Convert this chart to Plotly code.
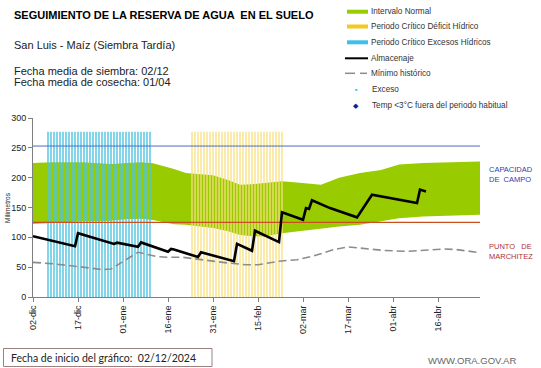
import pandas as pd
import plotly.graph_objects as go

# ---------------- data ----------------
start_date = "2024-12-02"
end_day = 149

tick_days = [0, 15, 30, 45, 60, 75, 90, 105, 120, 135]
tick_labels = ["02-dic", "17-dic", "01-ene", "16-ene", "31-ene", "15-feb",
               "02-mar", "17-mar", "01-abr", "16-abr"]

band_days = [0, 6, 12, 17, 22, 26, 31, 36, 40, 44, 47, 51, 56, 60, 65, 69, 73, 77,
             83, 88, 92, 96, 102, 109, 116, 122, 130, 139, 149]
band_upper = [224.5, 226, 226, 226, 224, 223, 224.5, 226, 224, 219, 214.5, 208, 206,
              204, 196, 188, 189, 191, 194, 192, 190, 188, 200, 208, 213, 222, 224.5,
              225.5, 227]
band_lower = [122.5, 124, 126.5, 127, 127, 128, 130.5, 131, 129, 125, 122, 121, 118,
              115.5, 110, 104, 102, 101.5, 107, 110, 112, 114, 118, 121, 126.5, 132,
              135, 136, 138]

alm_days = [0, 14, 15, 27, 28, 29, 35, 36, 44, 45, 46, 47, 55, 56, 67, 68, 73, 74,
            82, 83, 90, 91, 92, 93, 99, 108, 113, 128, 129, 130, 131]
alm_vals = [102, 85, 107, 89, 91, 90, 84, 91.5, 77, 76, 80.5, 79.5, 67, 75, 60, 89,
            77.5, 111, 92, 142, 129.5, 149, 147.5, 162, 149, 133.5, 171.5, 157.5, 180,
            178, 177]

min_days = [0, 6, 15, 23, 26, 35, 41, 45, 50, 56, 65, 71, 75, 82, 88, 93, 100, 105,
            111, 117, 125, 131, 137, 141, 148]
min_vals = [58, 56, 51, 46, 47, 75, 68, 66.5, 66.5, 62.5, 57, 54, 54, 60, 62.5, 68,
            79, 84, 80.5, 78, 76.5, 79, 80.5, 79.5, 75]

capacidad_campo = 253
punto_marchitez = 125

periodo_top = 277
exceso_period = ("2024-12-07", "2025-01-10")
deficit_period = ("2025-01-24", "2025-02-23")

# ---------------- helpers ----------------
t0 = pd.Timestamp(start_date)


def to_dates(days):
    return [t0 + pd.Timedelta(days=d) for d in days]


def vlines(period, top):
    xs, ys = [], []
    for d in pd.date_range(period[0], period[1], freq="D"):
        xs += [d, d, None]
        ys += [0, top, None]
    return xs, ys


FONT = "Arial, Liberation Sans, sans-serif"
L, R, T, B = 33, 480, 118, 297
W, H = 541, 368


def px(x):
    return (x - L) / (R - L)


def py(y):
    return (B - y) / (B - T)


fig = go.Figure()

# normal interval band
bx = to_dates(band_days)
fig.add_trace(go.Scatter(x=bx, y=band_lower, mode="lines", line=dict(width=0, color="#99CC00"),
                         hoverinfo="skip", showlegend=False))
fig.add_trace(go.Scatter(x=bx, y=band_upper, mode="lines", line=dict(width=0, color="#99CC00"),
                         fill="tonexty", fillcolor="#99CC00", showlegend=False))

# critical periods
ex_x, ex_y = vlines(exceso_period, periodo_top)
fig.add_trace(go.Scatter(x=ex_x, y=ex_y, mode="lines", line=dict(width=1.4, color="#4EC3E0"),
                         showlegend=False))
de_x, de_y = vlines(deficit_period, periodo_top)
fig.add_trace(go.Scatter(x=de_x, y=de_y, mode="lines", line=dict(width=1.3, color="#F7E07E"),
                         showlegend=False))

# reference lines
full = to_dates([0, end_day])
fig.add_trace(go.Scatter(x=full, y=[capacidad_campo] * 2, mode="lines",
                         line=dict(width=1, color="#4A6BC0"), showlegend=False))
fig.add_trace(go.Scatter(x=full, y=[punto_marchitez] * 2, mode="lines",
                         line=dict(width=1.3, color="#C8501E"), showlegend=False))

# minimo historico
fig.add_trace(go.Scatter(x=to_dates(min_days), y=min_vals, mode="lines",
                         line=dict(width=1.6, color="#8C8C8C", dash="8px,4px"), showlegend=False))
# almacenaje
fig.add_trace(go.Scatter(x=to_dates(alm_days), y=alm_vals, mode="lines",
                         line=dict(width=2.6, color="#000000"), showlegend=False))

shapes = []
ann = []


def text(x, y, s, size=8, color="#333333", anchor="left", bold=False, angle=0, family=FONT):
    ann.append(dict(x=px(x), y=py(y), xref="paper", yref="paper", text=f"<b>{s}</b>" if bold else s,
                    showarrow=False, xanchor=anchor, yanchor="middle", textangle=angle,
                    font=dict(size=size, color=color, family=family)))


# titles
text(12, 15, "SEGUIMIENTO DE LA RESERVA DE AGUA  EN EL SUELO", size=11, color="#000000", bold=True)
text(12, 45, "San Luis - Maíz (Siembra Tardía)", size=11, color="#222222")
text(12, 71, "Fecha media de siembra: 02/12", size=11, color="#222222")
text(12, 82, "Fecha media de cosecha: 01/04", size=11, color="#222222")

# legend
leg_rows = [11.7, 26.5, 42.3, 58.3, 73.3, 89.3, 105]
leg_texts = ["Intervalo Normal", "Periodo Crítico Déficit Hídrico", "Periodo Crítico Excesos Hídricos",
             "Almacenaje", "Mínimo histórico", "Exceso", "Temp <3°C fuera del periodo habitual"]
sw_colors = ["#99CC00", "#F6C81E", "#3DC0E8"]
for i, c in enumerate(sw_colors):
    yy = leg_rows[i]
    shapes.append(dict(type="rect", xref="paper", yref="paper", x0=px(347), x1=px(368),
                       y0=py(yy + 2), y1=py(yy - 2), fillcolor=c, line=dict(width=0)))
shapes.append(dict(type="line", xref="paper", yref="paper", x0=px(345), x1=px(368),
                   y0=py(leg_rows[3]), y1=py(leg_rows[3]), line=dict(color="#000000", width=2)))
shapes.append(dict(type="line", xref="paper", yref="paper", x0=px(345), x1=px(355),
                   y0=py(leg_rows[4]), y1=py(leg_rows[4]), line=dict(color="#8C8C8C", width=1.5)))
shapes.append(dict(type="line", xref="paper", yref="paper", x0=px(360), x1=px(367),
                   y0=py(leg_rows[4]), y1=py(leg_rows[4]), line=dict(color="#8C8C8C", width=1.5)))
for i, t in enumerate(leg_texts):
    text(369 if i < 5 else 370, leg_rows[i], t, size=8.2, color="#333333")
text(356, leg_rows[5], "■", size=4, color="#3DC0E8", anchor="center")
text(356, leg_rows[6], "◆", size=7, color="#1A1A9A", anchor="center")

# right side labels
ann.append(dict(x=px(487), y=py(174.5), xref="paper", yref="paper", text="CAPACIDAD<br>DE  CAMPO",
                showarrow=False, xanchor="left", yanchor="middle", align="left",
                font=dict(size=7.5, color="#3A3AA8", family=FONT)))
ann.append(dict(x=px(487), y=py(251), xref="paper", yref="paper", text="PUNTO   DE<br>MARCHITEZ",
                showarrow=False, xanchor="left", yanchor="middle", align="left",
                font=dict(size=7.5, color="#B03030", family=FONT)))

# y-axis title
text(7, 208, "Milímetros", size=6.5, color="#222222", anchor="center", angle=-90)

# bottom box
shapes.append(dict(type="rect", xref="paper", yref="paper", x0=px(3.5), x1=px(212),
                   y0=py(366.5), y1=py(348.5), line=dict(color="#9A8080", width=1), fillcolor="rgba(0,0,0,0)"))
text(9, 357.5, "Fecha de inicio del gráfico:  02/12/2024", size=10.5, color="#222222", family="Lato, Open Sans, sans-serif")
text(518, 360, "WWW.ORA.GOV.AR", size=9.5, color="#666666", anchor="right")

fig.update_layout(
    width=W, height=H,
    margin=dict(l=L, r=W - R, t=T, b=H - B, pad=0),
    paper_bgcolor="white", plot_bgcolor="white",
    font=dict(family=FONT, size=9, color="#222222"),
    showlegend=False,
    shapes=shapes, annotations=ann,
    xaxis=dict(type="date", range=[t0, t0 + pd.Timedelta(days=end_day)],
               tickvals=to_dates(tick_days), ticktext=tick_labels, tickangle=-90,
               showgrid=False, zeroline=False, showline=True, linecolor="#7F7F7F", linewidth=1,
               ticks="outside", ticklen=4, tickcolor="#7F7F7F", tickfont=dict(size=9, color="#222222"),
               automargin=False),
    yaxis=dict(range=[0, 300], tickvals=[0, 50, 100, 150, 200, 250, 300],
               showgrid=False, zeroline=False, showline=True, linecolor="#7F7F7F", linewidth=1,
               ticks="outside", ticklen=4, tickcolor="#7F7F7F", tickfont=dict(size=9, color="#222222"),
               automargin=False),
)

fig.write_html("out.html", config={"displayModeBar": False},
               post_script="document.body.style.margin='0';document.body.style.overflow='hidden';")
